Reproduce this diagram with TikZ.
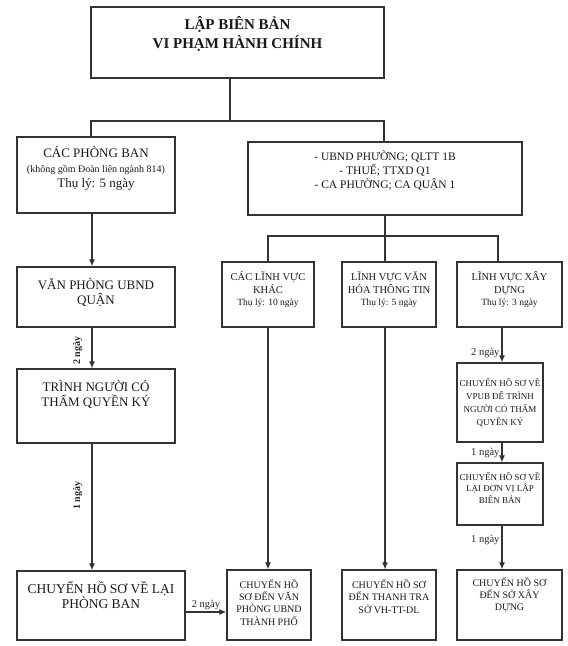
\documentclass[tikz,border=0pt]{standalone}
\usepackage{fontspec}
\setmainfont{Liberation Serif}
\usetikzlibrary{arrows.meta}
\tikzstyle{caja}=[draw=black!80, line width=1.3pt, inner sep=0pt, text=black!90]
\tikzstyle{linea}=[draw=black!80, line width=1.1pt]
\tikzstyle{flecha}=[linea, -{Latex[length=7pt,width=6pt]}]
\tikzstyle{etq}=[font=\fontsize{10.5}{12}\selectfont, inner sep=2pt, text=black!85]
\tikzstyle{etqv}=[font=\fontsize{10}{12}\selectfont\bfseries, rotate=90, anchor=south, inner sep=9pt, text=black!85]
\newcommand{\cajatxt}[4]{\parbox[c][#2][t]{#1}{\centering\vspace*{#3}\rule{0pt}{1em}#4}}

\begin{document}
\begin{tikzpicture}[x=1pt, y=-1pt]
        \useasboundingbox (0,0) rectangle (568,646);

        % Cajas
        \node[caja, font=\fontsize{15}{19}\selectfont\bfseries] (T) at (237.5,42.5)
            {\cajatxt{293pt}{71pt}{7pt}{LẬP BIÊN BẢN\\VI PHẠM HÀNH CHÍNH}};

        \node[caja, font=\fontsize{13}{15}\selectfont] (L1) at (96,175)
            {\cajatxt{158pt}{76pt}{7.3pt}{CÁC PHÒNG BAN\\{\fontsize{10}{12}\selectfont (không gồm Đoàn liên ngành 814)}\\Thụ lý: 5 ngày}};
        \node[caja, font=\fontsize{13}{15}\selectfont] (L2) at (96,297)
            {\cajatxt{158pt}{60pt}{9.3pt}{VĂN PHÒNG UBND\\QUẬN}};
        \node[caja, font=\fontsize{13}{15}\selectfont] (L3) at (96,406)
            {\cajatxt{158pt}{74pt}{9.3pt}{TRÌNH NGƯỜI CÓ\\THẨM QUYỀN KÝ}};
        \node[caja, font=\fontsize{13.5}{14.5}\selectfont] (L4) at (101,605.5)
            {\cajatxt{168pt}{69pt}{9pt}{CHUYỂN HỒ SƠ VỀ LẠI\\PHÒNG BAN}};

        \node[caja, font=\fontsize{11.5}{14}\selectfont] (R) at (385,178.5)
            {\cajatxt{274pt}{73pt}{7.3pt}{- UBND PHƯỜNG; QLTT 1B\\- THUẾ; TTXD Q1\\- CA PHƯỜNG; CA QUẬN 1}};

        \node[caja, font=\fontsize{10.5}{12.5}\selectfont] (M1) at (268,294.5)
            {\cajatxt{92pt}{65pt}{8pt}{CÁC LĨNH VỰC\\KHÁC\\{\fontsize{9.5}{12.5}\selectfont Thụ lý: 10 ngày}}};
        \node[caja, font=\fontsize{10.5}{12.5}\selectfont] (M2) at (389,294.5)
            {\cajatxt{94pt}{65pt}{8pt}{LĨNH VỰC VĂN\\HÓA THÔNG TIN\\{\fontsize{9.5}{12.5}\selectfont Thụ lý: 5 ngày}}};
        \node[caja, font=\fontsize{10.5}{12.5}\selectfont] (M3) at (509.5,294.5)
            {\cajatxt{105pt}{65pt}{8pt}{LĨNH VỰC XÂY\\DỰNG\\{\fontsize{9.5}{12.5}\selectfont Thụ lý: 3 ngày}}};

        \node[caja, font=\fontsize{9}{13}\selectfont] (X2) at (500,402.5)
            {\cajatxt{86pt}{79pt}{14pt}{CHUYỂN HỒ SƠ VỀ\\VPUB ĐỂ TRÌNH\\NGƯỜI CÓ THẨM\\QUYỀN KÝ}};
        \node[caja, font=\fontsize{9}{11.5}\selectfont] (X3) at (500,494)
            {\cajatxt{86pt}{62pt}{8pt}{CHUYỂN HỒ SƠ VỀ\\LẠI ĐƠN VỊ LẬP\\BIÊN BẢN}};

        \node[caja, font=\fontsize{10}{12.3}\selectfont] (B1) at (269,605)
            {\cajatxt{84pt}{70pt}{8.3pt}{CHUYỂN HỒ\\SƠ ĐẾN VĂN\\PHÒNG UBND\\THÀNH PHỐ}};
        \node[caja, font=\fontsize{10}{12.5}\selectfont] (B2) at (389,605)
            {\cajatxt{94pt}{70pt}{8.3pt}{CHUYỂN HỒ SƠ\\ĐẾN THANH TRA\\SỞ VH-TT-DL}};
        \node[caja, font=\fontsize{10}{12}\selectfont] (B3) at (509.5,605)
            {\cajatxt{105pt}{70pt}{6.3pt}{CHUYỂN HỒ SƠ\\ĐẾN SỞ XÂY\\DỰNG}};

        % Puntos de union
        \coordinate (J) at (230,121);
        \coordinate (JL) at (91,121);
        \coordinate (JR) at (384,121);
        \coordinate (KR) at (498,236);
        \coordinate (CL) at (92,0);
        \coordinate (CX) at (502,0);
        \coordinate (H) at (0,612);

        % Conexiones
        \draw[linea] (J |- T.south) -- (J);
        \draw[linea] (JL |- L1.north) -- (JL) -- (JR) -- (JR |- R.north);
        \draw[linea] (R.south) -- (R.south |- M2.north);
        \draw[linea] (M1.north) |- (KR) -- (KR |- M3.north);

        \draw[flecha] (CL |- L1.south) -- (CL |- L2.north);
        \draw[flecha] (CL |- L2.south) -- node[etqv, pos=.57] {2 ngày} (CL |- L3.north);
        \draw[flecha] (CL |- L3.south) -- node[etqv, pos=.41] {1 ngày} (CL |- L4.north);
        \draw[flecha] (L4.east |- H) -- node[etq, above] {2 ngày} (B1.west |- H);

        \draw[flecha] (M1.south) -- (M1.south |- B1.north);
        \draw[flecha] (R.south |- M2.south) -- (R.south |- B2.north);

        \draw[flecha] (CX |- M3.south) -- node[etq, left, pos=.72] {2 ngày} (CX |- X2.north);
        \draw[flecha] (CX |- X2.south) -- node[etq, left] {1 ngày} (CX |- X3.north);
        \draw[flecha] (CX |- X3.south) -- node[etq, left, pos=.33] {1 ngày} (CX |- B3.north);
    \end{tikzpicture}
\end{document}
